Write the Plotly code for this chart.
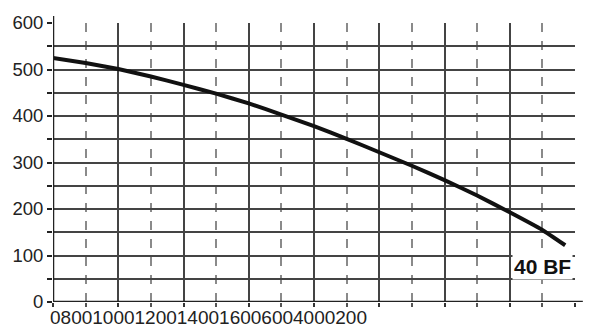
import plotly.graph_objects as go

# Data
flow = [0, 100, 200, 300, 400, 500, 600, 700, 800, 900, 1000, 1100, 1200, 1300, 1400, 1500, 1570]
head = [525, 514, 501, 485, 467, 448, 427, 403, 378, 351, 322, 293, 262, 229, 193, 155, 122]
series_label = "40 BF"
x_tick_labels = ["0", "800", "1000", "1200", "1400", "1600", "600", "400", "0200"]
y_tick_vals = [0, 100, 200, 300, 400, 500, 600]
y_tick_text = ["0", "100", "200", "300", "400", "500", "600"]

FONT = "Liberation Sans"
fig = go.Figure()
fig.add_trace(go.Scatter(x=flow, y=head, mode="lines",
                         line=dict(color="#111111", width=4, shape="spline", smoothing=0.4),
                         hoverinfo="skip", showlegend=False))

fig.update_layout(
    width=598, height=334,
    margin=dict(l=53, r=23, t=20, b=32),
    paper_bgcolor="white", plot_bgcolor="white",
    font=dict(family=FONT, size=19, color="#222222"),
    showlegend=False,
)
fig.update_xaxes(
    range=[0, 1600], tickvals=[0, 200, 400, 600, 800, 1000, 1200, 1400, 1600],
    showticklabels=False, ticks="outside", ticklen=4, tickcolor="#333", tickwidth=1.5,
    showgrid=True, gridcolor="#444444", gridwidth=1.5,
    minor=dict(tickvals=[100, 300, 500, 700, 900, 1100, 1300, 1500], showgrid=True,
               gridcolor="#8a8a8a", gridwidth=1.5, griddash="dash",
               ticks="outside", ticklen=4, tickcolor="#555"),
    showline=False, zeroline=False,
)
fig.update_yaxes(
    range=[0, 600], tickvals=y_tick_vals, ticktext=y_tick_text,
    ticks="outside", ticklen=5, tickcolor="#222", tickwidth=1.5,
    tickfont=dict(family=FONT, size=18.5, color="#222222"),
    showgrid=True, gridcolor="#444444", gridwidth=1.5,
    minor=dict(tickvals=[50, 150, 250, 350, 450, 550], showgrid=True,
               gridcolor="#444444", gridwidth=1.5, ticks="outside", ticklen=5, tickcolor="#222"),
    showline=False, zeroline=False,
)

# axis lines (extend slightly past the plot like the reference)
fig.add_shape(type="line", xref="x", yref="y domain", x0=0, x1=0, y0=0, y1=1.025,
              line=dict(color="#222222", width=2.5), layer="above")
fig.add_shape(type="line", xref="x domain", yref="y", x0=0, x1=1.015, y0=0, y1=0,
              line=dict(color="#222222", width=2.5), layer="above")

# concatenated x tick labels as in the reference
fig.add_annotation(x=0, y=0, xref="x", yref="y", text="".join(x_tick_labels),
                   showarrow=False, xanchor="left", yanchor="top", xshift=-5, yshift=-3,
                   font=dict(family=FONT, size=19, color="#222222"))

fig.add_annotation(x=1500, y=77, xref="x", yref="y", text="<b>" + series_label + "</b>",
                   showarrow=False, bgcolor="white", borderpad=1,
                   font=dict(family=FONT, size=21, color="#111111"))

fig.write_html("out.html")
